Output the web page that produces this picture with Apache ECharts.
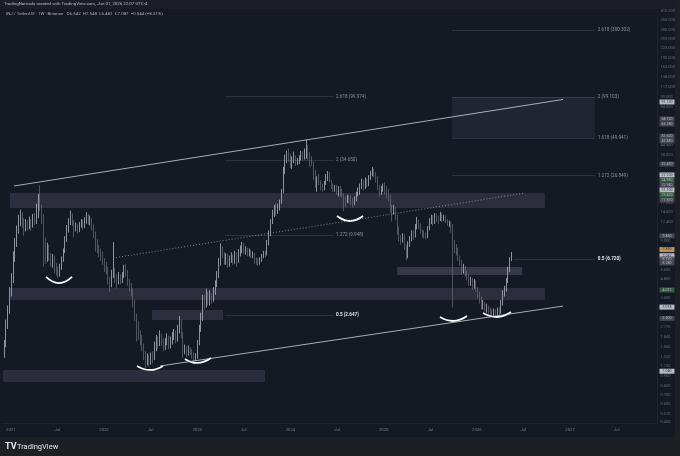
<!DOCTYPE html>
<html><head><meta charset="utf-8">
<script src="https://cdn.jsdelivr.net/npm/echarts@6/dist/echarts.min.js"></script>
<style>
html,body{margin:0;padding:0;background:#1e1f23;width:680px;height:456px;overflow:hidden}
#panel{position:absolute;left:0;top:0;width:675px;height:437px;background:#151924}
#head{position:absolute;left:0;top:0;width:675px;height:9px;background:#1b1e28}
#c{position:absolute;left:0;top:0;width:680px;height:456px}
</style>
</head><body><div id="panel"></div><div id="head"></div><div id="c"></div>
<script>
// ---- weekly candles, INJ/USDT, first week 2020-12-07, rows = [open, close, low, high]
const w2020 = [[1.40,1.60,1.30,1.75],[1.60,2.30,1.55,2.45],[2.30,2.80,2.10,3.10],[2.80,3.90,2.70,4.20]];
const w2021 = [[3.90,4.80,3.60,5.30],[4.80,6.90,4.50,7.60],[6.90,8.60,6.40,9.50],[8.60,10.80,8.20,11.70],[10.80,12.90,10.20,14.00],[12.90,13.80,11.60,15.20],[13.80,12.10,11.20,14.60],[12.10,11.00,9.90,13.20],[11.00,12.20,10.60,13.00],[12.20,11.40,10.80,12.80],[11.40,12.60,11.00,13.60],[12.60,11.60,10.70,13.00],[11.60,13.00,11.30,14.20],[13.00,12.40,11.80,14.40],[12.40,14.60,12.00,16.80],[14.60,17.80,13.20,19.80],[17.80,15.50,14.80,22.90],[15.50,13.20,12.00,16.50],[13.20,8.40,5.90,14.20],[8.40,7.20,6.20,9.60],[7.20,7.90,6.40,8.80],[7.90,7.00,6.50,8.50],[7.00,6.40,5.90,7.40],[6.40,6.90,5.80,7.30],[6.90,5.90,5.30,7.10],[5.90,5.60,5.10,6.30],[5.60,5.30,4.90,5.90],[5.30,5.90,5.00,6.20],[5.90,6.60,5.60,7.00],[6.60,7.60,6.40,8.00],[7.60,9.20,7.40,9.80],[9.20,11.00,8.90,11.80],[11.00,12.50,10.40,13.20],[12.50,13.80,11.80,15.00],[13.80,12.20,11.60,14.30],[12.20,11.10,9.60,12.80],[11.10,11.60,10.60,12.30],[11.60,10.90,10.20,12.00],[10.90,11.80,10.50,12.40],[11.80,12.20,11.30,13.00],[12.20,11.50,10.90,12.90],[11.50,12.60,11.20,13.40],[12.60,13.40,12.10,14.60],[13.40,12.40,11.90,14.20],[12.40,12.90,11.70,13.80],[12.90,11.40,10.80,13.20],[11.40,10.10,9.50,11.90],[10.10,9.00,7.60,10.60],[9.00,8.20,7.40,9.30],[8.20,7.60,6.90,8.50],[7.60,7.00,6.50,8.00],[7.00,6.50,6.10,7.60]];
const w2022 = [[6.50,6.00,5.40,6.80],[6.00,5.70,5.20,6.40],[5.70,4.80,4.40,5.90],[4.80,4.40,3.90,5.00],[4.40,5.20,4.20,5.60],[5.20,5.40,4.90,8.90],[5.40,4.90,4.50,5.80],[4.90,4.60,4.10,5.20],[4.60,5.00,4.40,5.40],[5.00,4.70,4.40,5.20],[4.70,5.10,4.50,5.40],[5.10,5.70,4.90,6.10],[5.70,5.40,5.00,6.20],[5.40,4.60,4.30,5.60],[4.60,4.30,3.90,4.80],[4.30,3.90,3.60,4.50],[3.90,3.30,3.00,4.10],[3.30,2.60,2.40,3.40],[2.60,2.10,1.70,2.70],[2.10,1.90,1.75,2.40],[1.90,1.75,1.60,2.05],[1.75,1.55,1.45,1.90],[1.55,1.35,1.25,1.65],[1.35,1.22,1.10,1.45],[1.22,1.30,1.15,1.40],[1.30,1.20,1.12,1.36],[1.20,1.34,1.16,1.42],[1.34,1.28,1.18,1.45],[1.28,1.55,1.25,1.70],[1.55,1.75,1.45,1.90],[1.75,1.62,1.50,1.85],[1.62,1.85,1.58,2.05],[1.85,1.70,1.58,1.95],[1.70,1.55,1.45,1.80],[1.55,1.65,1.48,1.80],[1.65,1.80,1.60,1.95],[1.80,1.60,1.50,1.88],[1.60,1.70,1.52,1.85],[1.70,1.85,1.62,2.00],[1.85,1.95,1.75,2.10],[1.95,1.75,1.65,2.05],[1.75,2.05,1.70,2.25],[2.05,2.30,1.95,2.60],[2.30,1.90,1.80,2.45],[1.90,1.45,1.30,2.00],[1.45,1.50,1.38,1.62],[1.50,1.40,1.32,1.58],[1.40,1.48,1.35,1.60],[1.48,1.42,1.36,1.55],[1.42,1.35,1.28,1.50],[1.35,1.30,1.22,1.42],[1.30,1.32,1.24,1.40]];
const w2023 = [[1.32,1.65,1.28,1.75],[1.65,2.10,1.60,2.25],[2.10,2.50,2.00,2.75],[2.50,3.40,2.40,3.70],[3.40,3.20,2.90,3.70],[3.20,3.60,3.00,4.10],[3.60,3.30,3.10,3.90],[3.30,3.60,3.10,4.00],[3.60,3.40,3.20,3.80],[3.40,3.90,3.30,4.20],[3.90,4.40,3.70,4.70],[4.40,5.10,4.20,5.50],[5.10,6.20,4.90,6.80],[6.20,7.60,6.00,8.70],[7.60,7.20,6.80,8.30],[7.20,6.40,6.10,7.50],[6.40,7.00,6.10,7.40],[7.00,6.20,5.80,7.30],[6.20,6.60,5.90,7.10],[6.60,6.90,6.30,7.50],[6.90,6.40,6.10,7.20],[6.40,7.20,6.20,7.70],[7.20,6.60,5.90,7.50],[6.60,7.40,6.30,7.90],[7.40,7.80,7.00,8.40],[7.80,8.40,7.40,8.90],[8.40,7.70,7.30,8.80],[7.70,7.90,7.20,8.30],[7.90,7.30,7.00,8.10],[7.30,7.60,7.00,8.00],[7.60,7.10,6.80,7.80],[7.10,7.30,6.80,7.60],[7.30,6.70,6.20,7.40],[6.70,6.50,6.10,6.90],[6.50,6.30,6.00,6.80],[6.30,6.60,6.10,6.90],[6.60,7.00,6.40,7.30],[7.00,7.40,6.80,7.70],[7.40,7.20,6.90,7.70],[7.20,8.80,7.10,9.20],[8.80,10.20,8.40,10.80],[10.20,12.50,9.80,13.00],[12.50,14.50,12.00,15.20],[14.50,15.50,13.50,16.50],[15.50,15.00,13.80,17.00],[15.00,15.60,14.20,16.80],[15.60,17.20,15.00,18.00],[17.20,20.50,16.80,21.50],[20.50,29.50,20.00,31.00],[29.50,35.50,27.50,38.00],[35.50,38.00,33.00,40.50],[38.00,36.00,33.50,42.00]];
const w2024 = [[36.00,32.50,30.50,38.50],[32.50,34.50,30.00,37.00],[34.50,36.50,33.00,40.00],[36.50,33.50,31.50,37.50],[33.50,34.00,32.00,36.00],[34.00,35.50,32.50,37.50],[35.50,38.50,34.50,40.50],[38.50,36.00,34.50,40.00],[36.00,39.50,35.00,42.00],[39.50,40.50,35.50,48.50],[40.50,37.50,35.00,44.50],[37.50,34.50,31.00,39.50],[34.50,33.00,31.50,37.00],[33.00,26.00,25.00,34.00],[26.00,24.50,22.00,29.50],[24.50,25.50,20.50,26.50],[25.50,24.00,23.00,27.50],[24.00,22.50,21.00,24.80],[22.50,21.50,20.50,23.50],[21.50,23.50,21.00,24.50],[23.50,25.50,23.00,27.50],[25.50,27.00,24.50,29.00],[27.00,24.50,24.00,28.50],[24.50,22.50,21.50,25.00],[22.50,21.50,20.50,23.50],[21.50,22.50,20.50,23.00],[22.50,20.50,19.50,23.00],[20.50,21.50,19.00,22.50],[21.50,20.00,19.00,22.50],[20.00,19.50,18.50,21.50],[19.50,18.00,14.90,20.00],[18.00,17.50,16.00,19.00],[17.50,18.50,17.00,19.50],[18.50,18.00,17.00,19.50],[18.00,17.80,16.50,19.30],[17.80,17.00,15.80,18.50],[17.00,18.00,16.40,19.00],[18.00,19.50,17.50,20.50],[19.50,20.50,19.00,22.00],[20.50,22.50,19.50,23.50],[22.50,24.00,21.50,25.50],[24.00,22.00,21.00,25.00],[22.00,24.50,21.50,26.00],[24.50,23.00,22.00,25.50],[23.00,26.00,22.50,27.00],[26.00,27.50,25.00,29.00],[27.50,29.50,26.50,31.00],[29.50,27.00,26.00,30.00],[27.00,25.50,24.00,28.50],[25.50,22.00,21.00,26.50],[22.00,20.50,19.00,23.00],[20.50,21.50,19.50,22.50],[21.50,22.50,20.50,23.50]];
const w2025 = [[22.50,21.00,19.50,24.00],[21.00,20.50,18.50,22.50],[20.50,19.00,17.50,21.50],[19.00,16.00,14.50,19.50],[16.00,15.00,12.50,16.50],[15.00,15.50,14.00,16.50],[15.50,13.50,12.80,16.00],[13.50,10.50,10.00,14.00],[10.50,9.50,9.00,11.50],[9.50,9.20,8.50,10.00],[9.20,9.80,8.80,10.30],[9.80,8.30,7.80,10.20],[8.30,7.40,6.60,8.50],[7.40,8.60,6.80,9.00],[8.60,9.20,8.20,9.80],[9.20,10.20,9.00,10.80],[10.20,9.80,9.20,10.80],[9.80,11.50,9.60,12.00],[11.50,12.30,11.00,13.50],[12.30,11.80,11.00,12.90],[11.80,10.60,10.20,12.20],[10.60,10.20,9.60,11.00],[10.20,10.00,9.40,10.80],[10.00,9.70,9.30,10.40],[9.70,11.00,9.50,11.60],[11.00,12.60,10.80,13.20],[12.60,13.20,12.00,14.00],[13.20,12.40,11.60,13.90],[12.40,13.60,12.00,14.40],[13.60,13.00,12.40,14.30],[13.00,12.80,12.00,13.80],[12.80,13.80,12.60,14.70],[13.80,13.10,12.40,14.30],[13.10,13.40,12.60,14.00],[13.40,12.70,12.20,13.80],[12.70,12.00,11.60,13.00],[12.00,12.20,11.40,12.70],[12.20,11.00,10.40,12.50],[11.00,8.40,3.00,12.00],[8.40,8.00,7.40,9.20],[8.00,7.60,7.10,8.60],[7.60,6.80,6.50,8.10],[6.80,6.40,6.00,7.10],[6.40,5.60,5.20,6.60],[5.60,5.80,5.30,6.20],[5.80,5.30,5.00,6.00],[5.30,5.00,4.70,5.50],[5.00,4.50,4.30,5.20],[4.50,4.70,4.30,5.00],[4.70,4.30,4.00,4.90],[4.30,4.50,4.10,4.80],[4.50,4.10,3.90,4.70]];
const w2026 = [[4.10,3.70,3.50,4.20],[3.70,3.40,3.20,3.90],[3.40,3.10,2.90,3.60],[3.10,3.20,2.90,3.40],[3.20,2.95,2.80,3.30],[2.95,3.00,2.75,3.20],[3.00,2.85,2.70,3.10],[2.85,2.75,2.62,3.00],[2.75,2.65,2.55,2.90],[2.65,2.80,2.55,2.95],[2.80,2.68,2.58,2.90],[2.68,2.85,2.62,3.00],[2.85,2.75,2.65,3.00],[2.75,3.20,2.70,3.40],[3.20,3.80,3.10,4.00],[3.80,4.00,3.60,4.30],[4.00,4.60,3.90,4.90],[4.60,5.60,4.50,5.90],[5.60,6.54,5.40,6.90],[6.542,7.087,6.482,7.548]];

// ---- axis ticks (x in fractional years, y prices)
const timeTicks = [2021,2021.5,2022,2022.5,2023,2023.5,2024,2024.5,2025,2025.5,2026,2026.5,2027,2027.5];
const priceTicks = [410,355,300,259,223,190,163,138,117,99,84,44.5,38,17,14.6,12.4,9,5.6,4.8,3.5,2.17,1.84,1.56,1.32,1.13,0.96,0.82,0.7,0.6,0.51,0.45];

// ---- price tags on the right scale
const tagPrices = [91.13,68.72,63.18,51.62,47.83,32.47,27.10,24.93,22.94,21.10,19.42,17.87,9.85,7.85,7.087,6.72,6.28,4.012,3.018,2.50,1.04];
const tagKinds  = ['w','n','n','n','n','n','w','g','n','w','g','n','n','o','w','n','n','g','w','n','w'];

// ---- zones [t start, t end, price low, price high]
const zones = [[2020.99,2026.73,15.65,20.10],[2020.99,2026.73,3.40,4.14],[2022.515,2023.277,2.44,2.88],[2025.145,2026.486,5.15,5.87],[2020.916,2023.728,0.87,1.06]];
const targetBox = [2025.734,2027.266,49.941,99.103];

// ---- trend lines [[t,p],[t,p]]
const channelUpper = [[2021.034,22.56],[2026.925,95.0]];
const channelLower = [[2022.602,1.135],[2026.925,3.07]];
const channelMid   = [[2022.097,6.82],[2026.518,20.10]];

// ---- fibonacci levels
const fibLeftLevels = ['0.5','1.272','2','2.618'];
const fibLeftPrices = [2.647,9.948,34.650,99.974];
const fibLeftSpan = [2023.298,2024.457];
const fibRightLevels = ['0.5','1.272','1.618','2','2.618'];
const fibRightPrices = [6.720,26.849,49.941,99.103,300.302];
const fibRightStart = [2026.39,2025.734,2025.734,2025.734,2025.734];
const fibRightEnd = 2027.266;

// ---- smile marks [[t,p],...]
const smiles = [
  [[2021.378,4.98],[2021.517,4.50],[2021.657,4.98]],
  [[2022.354,1.135],[2022.494,1.062],[2022.633,1.135]],
  [[2022.869,1.275],[2022.998,1.193],[2023.148,1.296]],
  [[2024.500,13.71],[2024.639,12.62],[2024.779,13.71]],
  [[2025.605,2.56],[2025.745,2.396],[2025.895,2.603]],
  [[2026.066,2.736],[2026.216,2.56],[2026.366,2.78]]
];

const xMin = 2020.9056, xMax = 2027.933, yMin = 0.44, yMax = 420;

function weekToYear(i){
  const ms = Date.UTC(2020,11,7) + i*7*86400000;
  const y = new Date(ms).getUTCFullYear();
  const a = Date.UTC(y,0,1), b = Date.UTC(y+1,0,1);
  return y + (ms-a)/(b-a);
}
const rows = [].concat(w2020,w2021,w2022,w2023,w2024,w2025,w2026);
const candles = rows.map((r,i)=>[weekToYear(i), r[0], r[1], r[2], r[3]]);

const FONT = 'Roboto, "Liberation Sans", sans-serif';
const tagColors = {w:['#e0e3eb','#131722'], n:['#50535e','#d1d4dc'], g:['#3d6e4a','#d1d4dc'], o:['#e3b36a','#131722']};

const fibStyle = {color:'rgba(180,184,195,0.28)', width:0.6, type:'solid'};
function fibLabel(level){
  const main = level === '0.5';
  return {show:true, position:'end', distance:3, fontSize:4.6, fontFamily:FONT,
    color: main ? '#e6e8ee' : '#8f939e', fontWeight: main ? 'bold' : 'normal'};
}
const markLines = [];
fibLeftLevels.forEach((lv,i)=>{
  markLines.push([{coord:[fibLeftSpan[0], fibLeftPrices[i]], lineStyle:fibStyle, label:Object.assign(fibLabel(lv),{formatter: lv+' ('+fibLeftPrices[i].toFixed(3)+')'})},
                  {coord:[fibLeftSpan[1], fibLeftPrices[i]]}]);
});
fibRightLevels.forEach((lv,i)=>{
  markLines.push([{coord:[fibRightStart[i], fibRightPrices[i]], lineStyle:fibStyle, label:Object.assign(fibLabel(lv),{formatter: lv+' ('+fibRightPrices[i].toFixed(3)+')'})},
                  {coord:[fibRightEnd, fibRightPrices[i]]}]);
});
const trendStyle = {color:'#cfd2da', width:0.8, type:'solid'};
[channelUpper, channelLower].forEach(l=>{
  markLines.push([{coord:l[0], lineStyle:trendStyle, label:{show:false}}, {coord:l[1]}]);
});
markLines.push([{coord:channelMid[0], lineStyle:{color:'#9a9eab', width:0.8, type:[1,2]}, label:{show:false}}, {coord:channelMid[1]}]);

const markAreas = zones.map((z,i)=>[
  {coord:[z[0], z[3]], itemStyle:{color: i===3 ? 'rgba(160,140,180,0.26)' : 'rgba(150,145,175,0.18)'}},
  {coord:[z[1], z[2]]}
]);
markAreas.push([{coord:[targetBox[0], targetBox[3]], itemStyle:{color:'rgba(200,205,225,0.07)'}}, {coord:[targetBox[1], targetBox[2]]}]);

const series = [
  {
    type:'candlestick', name:'INJ', data:candles, encode:{x:0, y:[1,2,3,4]},
    barWidth:1.2,
    itemStyle:{color:'#c4c7cf', color0:'#6b6f7a', borderColor:'#c4c7cf', borderColor0:'#6b6f7a', borderWidth:0.7},
    markArea:{silent:true, data:markAreas, label:{show:false}},
    markLine:{silent:true, symbol:['none','none'], data:markLines},
    z:3
  }
];
smiles.forEach(s=>{
  series.push({type:'line', data:s, smooth:true, symbol:'none', lineStyle:{color:'#ffffff', width:1.8}, z:4, silent:true});
});
series.push({
  type:'scatter', clip:false, symbol:'circle', symbolSize:1, silent:true,
  itemStyle:{color:'rgba(0,0,0,0)'},
  data: priceTicks.map(v=>[xMax, v]),
  label:{show:true, position:'right', distance:3, color:'#7b7f8b', fontSize:4, fontFamily:FONT,
    formatter:p=>p.value[1].toFixed(3)},
  z:2
});
series.push({
  type:'scatter', clip:false, symbol:'rect', symbolSize:[15,5], symbolOffset:[10,0], silent:true,
  data: tagPrices.map((v,i)=>({value:[xMax, v], itemStyle:{color:tagColors[tagKinds[i]][0]}, label:{color:tagColors[tagKinds[i]][1]}})),
  label:{show:true, position:'inside', fontSize:3.6, fontFamily:FONT, formatter:p=>p.value[1].toFixed(3)},
  z:6
});

const chart = echarts.init(document.getElementById('c'), null, {width:680, height:456});
chart.setOption({
  animation:false,
  backgroundColor:'transparent',
  grid:{left:2, right:23, top:10, bottom:33, containLabel:false},
  xAxis:{
    type:'value', min:xMin, max:xMax,
    axisLine:{show:true, lineStyle:{color:'#262a36', width:0.6}},
    axisTick:{show:false}, splitLine:{show:false},
    axisLabel:{customValues:timeTicks, color:'#7b7f8b', fontSize:4.2, fontFamily:FONT, margin:5,
      formatter:v=>Math.abs(v-Math.round(v))<1e-6 ? String(Math.round(v)) : 'Jul'}
  },
  yAxis:{
    type:'log', logBase:10, min:yMin, max:yMax, position:'right',
    axisLine:{show:true, lineStyle:{color:'#262a36', width:0.6}},
    axisTick:{show:false}, splitLine:{show:false}, axisLabel:{show:false}
  },
  graphic:[
    {type:'text', left:4, top:2, silent:true, style:{text:'TradingNomads created with TradingView.com, Jun 01, 2026 22:07 UTC-4', fill:'#b7bac3', fontSize:4.4, fontFamily:FONT}},
    {type:'text', left:6, top:12, silent:true, style:{text:'INJ / TetherUS · 1W · Binance   O6.542  H7.548  L6.482  C7.087  +0.544 (+8.31%)', fill:'#a9adb8', fontSize:4.4, fontFamily:FONT}},
    {type:'text', left:5, top:442, silent:true, style:{text:'TV', fill:'#e6e8ee', fontSize:9, fontWeight:'bold', fontFamily:FONT}},
    {type:'text', left:17, top:443, silent:true, style:{text:'TradingView', fill:'#e6e8ee', fontSize:7.5, fontFamily:FONT}}
  ],
  series
});
</script>
</body></html>
